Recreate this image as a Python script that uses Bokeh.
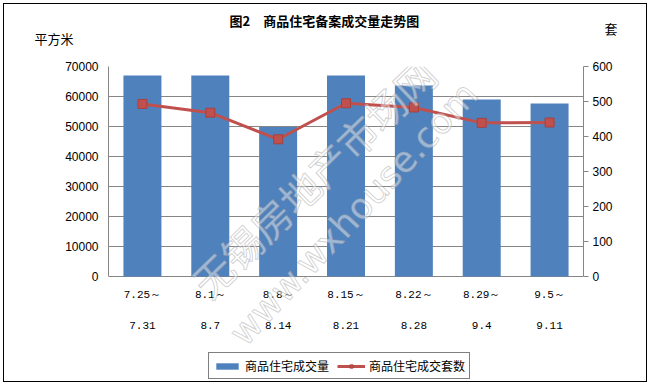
from bokeh.plotting import figure
from bokeh.models import (Range1d, FactorRange, LinearAxis, FixedTicker, Label, Legend, LegendItem,
                          Grid, ColumnDataSource, NumeralTickFormatter, Title)
from bokeh.core.properties import value
from bokeh.embed import file_html
from bokeh.resources import INLINE

# ---- data ----
week_start = ["7.25～", "8.1～", "8.8～", "8.15～", "8.22～", "8.29～", "9.5～"]
week_end = ["7.31", "8.7", "8.14", "8.21", "8.28", "9.4", "9.11"]
area = [67000, 67000, 49800, 67000, 63700, 59000, 57700]      # 平方米
units = [493, 468, 392, 495, 483, 439, 440]                   # 套
area_ticks = [0, 10000, 20000, 30000, 40000, 50000, 60000, 70000]
unit_ticks = [0, 100, 200, 300, 400, 500, 600]

title_text = "图2　商品住宅备案成交量走势图"
left_unit = "平方米"
right_unit = "套"
series_names = ["商品住宅成交量", "商品住宅成交套数"]
watermark = ["无锡房地产市场网", "www.wxhouse.com"]

BLUE = "#4F81BD"
RED = "#C0504D"
GRAY = "#868686"
CJK = "Noto Sans CJK SC"

# layout (pixels): value axis is 210 px tall, the frame continues 107 px below zero
AXIS_PX = 210
BELOW_PX = 107
amax, umax = area_ticks[-1], unit_ticks[-1]
a_lo = -amax * BELOW_PX / AXIS_PX
u_lo = -umax * BELOW_PX / AXIS_PX

src = ColumnDataSource(dict(x=week_start, area=area, units=units))

p = figure(width=644, height=379, x_range=FactorRange(factors=week_start),
           y_range=Range1d(a_lo, amax), output_backend="svg", toolbar_location=None,
           x_axis_location=None, y_axis_location=None,
           min_border_left=104, min_border_right=65, min_border_top=62, min_border_bottom=0)
p.extra_y_ranges = {"right": Range1d(u_lo, umax)}
p.outline_line_color = None
p.grid.grid_line_color = None
p.styles = {"border": "1px solid black", "margin": "3px 0 0 3px"}

# ---- title rows above the frame ----
spacer = Title(text="\u200b", standoff=-2, text_font=CJK, text_font_size="13px",
               text_font_style="normal")
t_left = Title(text=left_unit, align="left", offset=-74, standoff=0,
               text_font=CJK, text_font_size="13px", text_font_style="normal", text_color="black")
t_right = Title(text=right_unit, align="right", offset=-34, standoff=-22,
                text_font=CJK, text_font_size="13px", text_font_style="normal", text_color="black")
p.add_layout(spacer, "above")
p.add_layout(t_left, "above")
p.add_layout(t_right, "above")
p.title.text = title_text
p.title.align = "left"
p.title.offset = 121
p.title.standoff = -6
p.title.text_font = CJK
p.title.text_font_size = "13px"
p.title.text_font_style = "bold"
p.title.text_color = "black"

# ---- axes ----
lt = FixedTicker(ticks=area_ticks)
ly = LinearAxis(ticker=lt, formatter=NumeralTickFormatter(format="0"), bounds=(0, amax))
ly.axis_line_color = GRAY
ly.major_tick_out = 0
ly.major_tick_in = 0
ly.minor_tick_line_color = None
ly.major_label_standoff = 10
ly.major_label_text_font = "Liberation Sans"
ly.major_label_text_font_size = "12px"
ly.major_label_text_color = "black"
p.add_layout(ly, "left")

rt = FixedTicker(ticks=unit_ticks)
ry = LinearAxis(y_range_name="right", ticker=rt, bounds=(0, umax))
ry.axis_line_color = GRAY
ry.major_tick_line_color = GRAY
ry.major_tick_out = 5
ry.major_tick_in = 0
ry.minor_tick_line_color = None
ry.major_label_standoff = 4
ry.major_label_text_font = "Liberation Sans"
ry.major_label_text_font_size = "12px"
ry.major_label_text_color = "black"
p.add_layout(ry, "right")

g = Grid(dimension=1, ticker=lt, grid_line_color=GRAY, grid_line_width=1)
p.add_layout(g)

# ---- marks ----
bars = p.vbar(x="x", top="area", width=0.56, source=src, fill_color=BLUE, line_color=None)
ln = p.line(x="x", y="units", source=src, y_range_name="right", line_color=RED, line_width=3)
sq = p.scatter(x="x", y="units", source=src, y_range_name="right", marker="square", size=9,
               fill_color=RED, line_color="#A8403D", line_width=1)

# category labels (two lines under each bar)
lab_src = ColumnDataSource(dict(x=week_start, a=week_start, b=week_end,
                                y1=[-amax * 18 / AXIS_PX] * len(week_start),
                                y2=[-amax * 49 / AXIS_PX] * len(week_start)))
p.text(x="x", y="y1", text="a", source=lab_src, text_align="center", text_baseline="middle",
       text_font=value("Liberation Mono"), text_font_size="11px", text_color="black")
p.text(x="x", y="y2", text="b", source=lab_src, text_align="center", text_baseline="middle",
       text_font=value("Liberation Mono"), text_font_size="11px", text_color="black")

# watermark
p.add_layout(Label(x=205, y=206, x_units="screen", y_units="screen", text=watermark[0], angle=44,
                   angle_units="deg", text_align="center", text_baseline="middle", text_font=CJK,
                   text_font_size="40px", text_color="white", text_alpha=0.45,
                   text_outline_color="#9a9a9a"))
p.add_layout(Label(x=245, y=170, x_units="screen", y_units="screen", text=watermark[1], angle=47,
                   angle_units="deg", text_align="center", text_baseline="middle", text_font="DejaVu Sans",
                   text_font_size="36px", text_color="white", text_alpha=0.45,
                   text_outline_color="#9a9a9a"))

# ---- legend ----
legend = Legend(items=[LegendItem(label=series_names[0], renderers=[bars]),
                       LegendItem(label=series_names[1], renderers=[ln, sq])],
                location=(100, 4), orientation="horizontal")
legend.border_line_color = "black"
legend.border_line_width = 1
legend.background_fill_color = "white"
legend.background_fill_alpha = 1
legend.padding = 4
legend.margin = 0
legend.spacing = 8
legend.label_standoff = 4
legend.glyph_width = 28
legend.glyph_height = 8
legend.label_height = 12
legend.label_text_font = CJK
legend.label_text_font_size = "12px"
legend.label_text_color = "black"
p.add_layout(legend, "center")

open("out.html", "w").write(file_html(p, INLINE))
